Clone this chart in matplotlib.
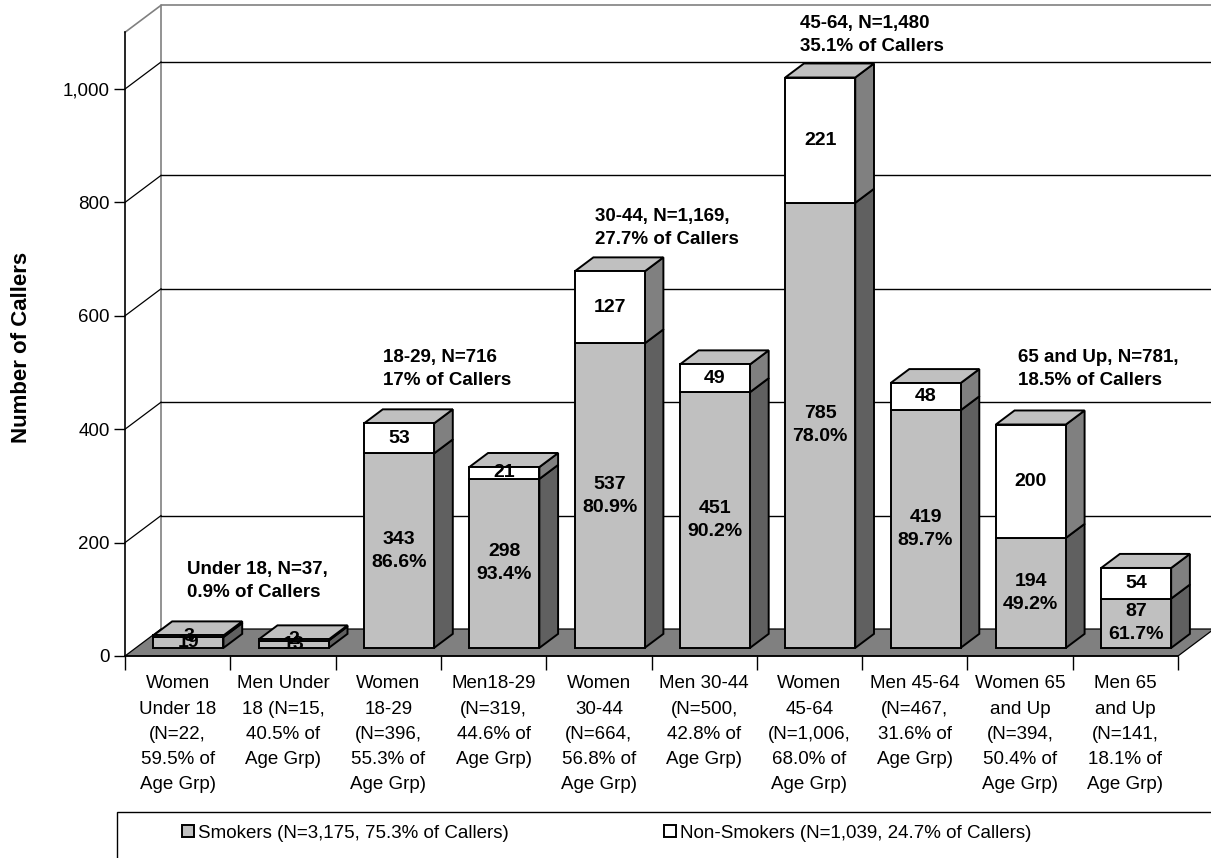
import matplotlib
matplotlib.use("Agg")
import matplotlib.pyplot as plt
from matplotlib.patches import Polygon, Rectangle
from matplotlib.ticker import FuncFormatter

# ---------------------------------------------------------------- data
categories = [
    "Women\nUnder 18\n(N=22,\n59.5% of\nAge Grp)",
    "Men Under\n18 (N=15,\n40.5% of\nAge Grp)",
    "Women\n18-29\n(N=396,\n55.3% of\nAge Grp)",
    "Men18-29\n(N=319,\n44.6% of\nAge Grp)",
    "Women\n30-44\n(N=664,\n56.8% of\nAge Grp)",
    "Men 30-44\n(N=500,\n42.8% of\nAge Grp)",
    "Women\n45-64\n(N=1,006,\n68.0% of\nAge Grp)",
    "Men 45-64\n(N=467,\n31.6% of\nAge Grp)",
    "Women 65\nand Up\n(N=394,\n50.4% of\nAge Grp)",
    "Men 65\nand Up\n(N=141,\n18.1% of\nAge Grp)",
]
smokers = [19, 13, 343, 298, 537, 451, 785, 419, 194, 87]
non_smokers = [3, 2, 53, 21, 127, 49, 221, 48, 200, 54]

group_notes = [
    "Under 18, N=37,\n0.9% of Callers",
    "18-29, N=716\n17% of Callers",
    "30-44, N=1,169,\n27.7% of Callers",
    "45-64, N=1,480\n35.1% of Callers",
    "65 and Up, N=781,\n18.5% of Callers",
]
group_note_x = [0.09, 1.95, 3.96, 5.91, 7.98]
group_note_y = [132, 506, 755, 1095, 506]

series_labels = ["Smokers (N=3,175, 75.3% of Callers)",
                 "Non-Smokers (N=1,039, 24.7% of Callers)"]
y_ticks = [0, 200, 400, 600, 800, 1000]
y_max = 1100

# ---------------------------------------------------------------- style
FONT = "Liberation Sans"
plt.rcParams["font.family"] = [FONT, "DejaVu Sans"]
FS = 13.5
C_SMOKE = "#C0C0C0"
C_SMOKE_SIDE = "#606060"
C_NON = "#FFFFFF"
C_NON_SIDE = "#808080"
C_TOP = "#C0C0C0"
C_FLOOR = "#808080"
C_WALL_EDGE = "#808080"

W, H = 1211, 858
fig = plt.figure(figsize=(W / 100, H / 100), dpi=100)
ax = fig.add_axes([125 / W, (H - 656) / H, 1053 / W, (656 - 32.3) / H])
ax.set_xlim(-0.5, len(categories) - 0.5)
ax.set_ylim(0, y_max)
ax.patch.set_visible(False)

# oblique depth of the plot box (in data units) and of the bars inside it
DX, DY = 0.342, 47.6
F0, F1 = 0.30, 0.82
BAR_W = 0.665
x_lo, x_hi = -0.5, len(categories) - 0.5


def poly(pts, fc, ec="black", lw=1.0, z=1):
    p = Polygon(pts, closed=True, facecolor=fc, edgecolor=ec, linewidth=lw,
                zorder=z, clip_on=False, joinstyle="miter")
    ax.add_patch(p)
    return p


# back wall frame
ax.plot([x_lo + DX, x_lo + DX, x_hi + DX + 1], [DY, y_max + DY, y_max + DY],
        color=C_WALL_EDGE, lw=1.2, clip_on=False, zorder=1)
ax.plot([x_lo, x_lo + DX], [y_max, y_max + DY], color=C_WALL_EDGE, lw=1.2,
        clip_on=False, zorder=1)

# gridlines on the back wall and on the left wall
for v in y_ticks[1:]:
    ax.plot([x_lo + DX, x_hi + DX + 1], [v + DY, v + DY], color="black",
            lw=1.0, clip_on=False, zorder=1)
    ax.plot([x_lo, x_lo + DX], [v, v + DY], color="black", lw=0.9,
            clip_on=False, zorder=1)

# floor
poly([(x_lo, 0), (x_hi, 0), (x_hi + DX, DY), (x_lo + DX, DY)], C_FLOOR,
     ec="black", lw=0.9, z=2)

# bars: front faces through ax.bar, depth faces as polygons
xs = [i + F0 * DX for i in range(len(categories))]
base = F0 * DY
ddx, ddy = (F1 - F0) * DX, (F1 - F0) * DY

bars_s = ax.bar(xs, smokers, width=BAR_W, bottom=base, color=C_SMOKE,
                edgecolor="black", linewidth=1.4, zorder=5, clip_on=False)
tops_s = [base + s for s in smokers]
bars_n = ax.bar(xs, non_smokers, width=BAR_W, bottom=tops_s, color=C_NON,
                edgecolor="black", linewidth=1.4, zorder=5, clip_on=False)

for i, (s, n) in enumerate(zip(smokers, non_smokers)):
    xr = xs[i] + BAR_W / 2
    xl = xs[i] - BAR_W / 2
    b, m, t = base, base + s, base + s + n
    poly([(xr, b), (xr + ddx, b + ddy), (xr + ddx, m + ddy), (xr, m)],
         C_SMOKE_SIDE, lw=1.4, z=4)
    poly([(xr, m), (xr + ddx, m + ddy), (xr + ddx, t + ddy), (xr, t)],
         C_NON_SIDE, lw=1.4, z=4)
    poly([(xl, t), (xr, t), (xr + ddx, t + ddy), (xl + ddx, t + ddy)],
         C_TOP, lw=1.4, z=4)

    # value labels
    lab_s = f"{s}"
    if s >= 50:
        lab_s += f"\n{100 * s / (s + n):.1f}%"
    ax.text(xs[i], b + s / 2, lab_s, ha="center", va="center",
            fontsize=FS + 0.5, fontweight="bold", linespacing=1.45, zorder=7)
    ax.text(xs[i], m + n / 2, f"{n}", ha="center", va="center",
            fontsize=FS + 0.5, fontweight="bold", zorder=7)

# age-group notes
for note, gx, gy in zip(group_notes, group_note_x, group_note_y):
    ax.text(gx, gy, note, ha="left", va="center", multialignment="left",
            fontsize=FS, fontweight="bold", linespacing=1.5, zorder=6)

# axes, ticks and labels
for side in ("top", "right"):
    ax.spines[side].set_visible(False)
for side in ("left", "bottom"):
    ax.spines[side].set_color("black")
    ax.spines[side].set_linewidth(1.2)
    ax.spines[side].set_zorder(3)

ax.set_yticks(y_ticks)
ax.yaxis.set_major_formatter(FuncFormatter(lambda v, _: f"{int(v):,}"))
ax.tick_params(axis="y", direction="out", length=8, width=1.0, pad=3,
               labelsize=FS)

ax.set_xticks([i - 0.5 for i in range(len(categories) + 1)])
ax.set_xticklabels([])
ax.set_xticks(range(len(categories)), minor=True)
ax.set_xticklabels(categories, minor=True)
ax.tick_params(axis="x", which="major", direction="out", length=10, width=1.0)
ax.tick_params(axis="x", which="minor", length=0, pad=14, labelsize=FS)
for lbl in ax.get_xticklabels(minor=True):
    lbl.set_linespacing(1.62)

fig.text(21.5 / W, 1 - 347.5 / H, "Number of Callers", rotation=90,
         ha="center", va="center", fontsize=16, fontweight="bold")

# legend strip along the bottom
legend_top = (H - 812) / H
fig.patches.append(Rectangle((117 / W, -0.1), 1.2, legend_top + 0.1,
                             transform=fig.transFigure, facecolor="white",
                             edgecolor="black", linewidth=1.0, zorder=0))
leg_kw = dict(frameon=False, fontsize=FS, handlelength=0.62, handleheight=0.62,
              handletextpad=0.25, borderpad=0, borderaxespad=0,
              loc="center left", bbox_transform=fig.transFigure)
fig.legend([bars_s[0]], [series_labels[0]],
           bbox_to_anchor=(182 / W, 1 - 833 / H), **leg_kw)
fig.legend([bars_n[0]], [series_labels[1]],
           bbox_to_anchor=(664 / W, 1 - 833 / H), **leg_kw)

fig.savefig("out.png", dpi=100)
